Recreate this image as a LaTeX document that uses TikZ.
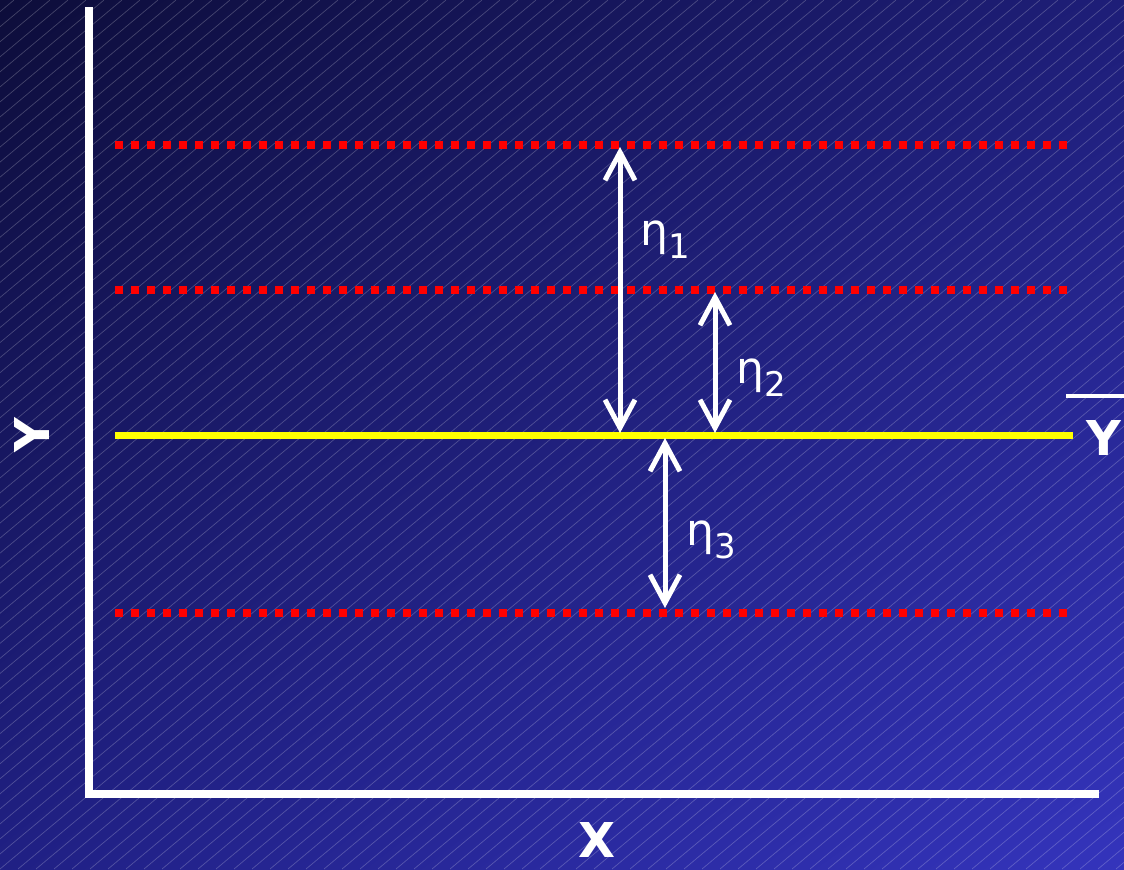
\documentclass[tikz,border=0pt]{standalone}
\usepackage{fontspec}
\setmainfont{DejaVu Sans}
\usetikzlibrary{arrows.meta,shadings}

\definecolor{bgTopLeft}{HTML}{0D0D3A}
\definecolor{bgTopRight}{HTML}{1E1E78}
\definecolor{bgBotLeft}{HTML}{202084}
\definecolor{bgBotRight}{HTML}{3434BC}
\definecolor{levelRed}{HTML}{FF0000}
\definecolor{meanYellow}{HTML}{FFFF00}

\tikzset{
  hatch/.style={white,opacity=0.22,line width=0.35pt},
  axisline/.style={white,line width=4pt},
  levelline/.style={levelRed,line width=4pt,dash pattern=on 4pt off 4pt},
  meanline/.style={meanYellow,line width=3.5pt},
  gaparrow/.style={white,line width=2.5pt,
    {Straight Barb[length=14pt,width=15pt]}-{Straight Barb[length=14pt,width=15pt]}},
  etalabel/.style={white,anchor=west,inner sep=0pt,font=\fontsize{22}{22}\selectfont},
  axislabel/.style={white,inner sep=0pt,font=\bfseries\fontsize{24}{24}\selectfont}
}
\newcommand{\etasub}[1]{η\raisebox{-0.3em}{\fontsize{17}{17}\selectfont #1}}

\begin{document}
\begin{tikzpicture}[x=0.5pt,y=-0.5pt]
\useasboundingbox (0,0) rectangle (1124,869);
% background
\shade[upper left=bgTopLeft,upper right=bgTopRight,lower left=bgBotLeft,lower right=bgBotRight]
  (0,0) rectangle (1124,869);
\begin{scope}
\clip (0,0) rectangle (1124,869);
\foreach \i in {-1044,-1026,...,1130} \draw[hatch] (\i,869) -- ++(1040,-869);
\end{scope}

% axes
\coordinate (ytop) at (89,7);
\coordinate (orig) at (89,794);
\coordinate (xend) at (1099,794);
\draw[axisline] (ytop) -- (orig) -- (xend);

% levels
\coordinate (l1a) at (115,145);  \coordinate (l1b) at (1070,145);
\coordinate (l2a) at (115,290);  \coordinate (l2b) at (1070,290);
\coordinate (l3a) at (115,613);  \coordinate (l3b) at (1070,613);
\coordinate (ma) at (115,435);   \coordinate (mb) at (1073,435);
\draw[levelline] (l1a) -- (l1b);
\draw[levelline] (l2a) -- (l2b);
\draw[levelline] (l3a) -- (l3b);
\draw[meanline] (ma) -- (mb);

% gaps
\coordinate (g1top) at (620,147);  \coordinate (g1bot) at (620,433);
\coordinate (g2top) at (715,292);  \coordinate (g2bot) at (715,433);
\coordinate (g3top) at (665,438);  \coordinate (g3bot) at (665,608);
\draw[gaparrow] (g1top) -- (g1bot);
\draw[gaparrow] (g2top) -- (g2bot);
\draw[gaparrow] (g3top) -- (g3bot);
\node[etalabel] (eta1) at (640,240) {\etasub{1}};
\node[etalabel] (eta2) at (736,378) {\etasub{2}};
\node[etalabel] (eta3) at (686,540) {\etasub{3}};

% labels
\node[axislabel,rotate=90] (ylab) at (32,435) {Y};
\node[axislabel] (xlab) at (597,840) {X};
\node[axislabel] (ybar) at (1104,438) {Y};
\draw[white,line width=2pt] ([xshift=-10pt,yshift=12pt]ybar.north west) -- ([xshift=12pt,yshift=12pt]ybar.north east);
\end{tikzpicture}
\end{document}
